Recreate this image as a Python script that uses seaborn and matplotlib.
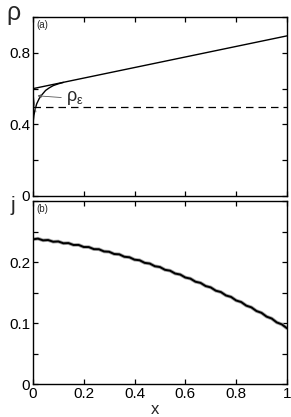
import matplotlib
matplotlib.use("Agg")
import matplotlib.pyplot as plt
import seaborn as sns
import numpy as np

# data
rho_line_x = [0.0, 1.0]
rho_line_y = [0.600, 0.895]
rho_bl_x = [0.0, 0.004, 0.008, 0.015, 0.025, 0.035, 0.05, 0.065, 0.08, 0.10, 0.12]
rho_bl_y = [0.40, 0.45, 0.48, 0.515, 0.545, 0.565, 0.59, 0.605, 0.617, 0.627, 0.635]
rho_eps_x = [0.0, 0.004, 0.008, 0.012]
rho_eps_y = [0.59, 0.54, 0.50, 0.47]
rho_ref = 0.5

j_vals = [0.2372, 0.2383, 0.2355, 0.2360, 0.2332, 0.2337, 0.2307, 0.2310, 0.2279, 0.2280,
          0.2246, 0.2245, 0.2211, 0.2209, 0.2173, 0.2168, 0.2131, 0.2126, 0.2086, 0.2078,
          0.2038, 0.2029, 0.1986, 0.1975, 0.1931, 0.1918, 0.1872, 0.1858, 0.1811, 0.1795,
          0.1746, 0.1728, 0.1677, 0.1658, 0.1606, 0.1584, 0.1530, 0.1508, 0.1452, 0.1428,
          0.1370, 0.1344, 0.1285, 0.1257, 0.1197, 0.1167, 0.1105, 0.1074, 0.1010, 0.0978,
          0.0915]
j_x = np.linspace(0, 1, len(j_vals))

sns.set_style("ticks")
plt.rcParams['font.family'] = ['Liberation Sans', 'DejaVu Sans']
plt.rcParams['mathtext.fontset'] = 'custom'
plt.rcParams['mathtext.rm'] = 'Liberation Sans'
plt.rcParams['mathtext.it'] = 'Liberation Sans'
plt.rcParams['mathtext.bf'] = 'Liberation Sans'

fig = plt.figure(figsize=(2.91, 4.17), dpi=100)
ax1 = fig.add_axes([0.113, 0.530, 0.873, 0.429])
ax2 = fig.add_axes([0.113, 0.079, 0.873, 0.439])

# top panel: density
sns.lineplot(x=rho_line_x, y=rho_line_y, ax=ax1, color="black", lw=1.0)
sns.lineplot(x=rho_bl_x, y=rho_bl_y, ax=ax1, color="black", lw=1.0, sort=False)
sns.lineplot(x=rho_eps_x, y=rho_eps_y, ax=ax1, color="0.35", lw=0.6, sort=False)
ax1.axhline(rho_ref, color="black", lw=0.9, ls=(0, (6, 4)))
ax1.annotate(r"$\rho_\varepsilon$", xy=(0.018, 0.56), xytext=(0.13, 0.545),
             fontsize=13, va="center",
             arrowprops=dict(arrowstyle="-|>", color="0.35", lw=0.6,
                             mutation_scale=5, shrinkA=1, shrinkB=0))
ax1.set_xlim(0, 1)
ax1.set_ylim(0, 1)
ax1.set_xticks([0, 0.2, 0.4, 0.6, 0.8, 1.0])
ax1.set_xticklabels([])
ax1.set_yticks([0, 0.2, 0.4, 0.6, 0.8, 1.0])
ax1.set_yticklabels(["0", "", "0.4", "", "0.8", ""])
ax1.text(0.015, 0.985, "(a)", transform=ax1.transAxes, fontsize=7, va="top")
fig.text(0.045, 0.970, "ρ", fontsize=18, ha="center", va="center")

# bottom panel: current
sns.lineplot(x=j_x, y=j_vals, ax=ax2, color="0.65", lw=2.6)
sns.lineplot(x=j_x, y=j_vals, ax=ax2, color="black", lw=1.4)
ax2.set_xlim(0, 1)
ax2.set_ylim(0, 0.3)
ax2.set_xticks([0, 0.2, 0.4, 0.6, 0.8, 1.0])
ax2.set_xticklabels(["0", "0.2", "0.4", "0.6", "0.8", "1"])
ax2.set_yticks([0, 0.05, 0.1, 0.15, 0.2, 0.25, 0.3])
ax2.set_yticklabels(["0", "", "0.1", "", "0.2", "", ""])
ax2.text(0.015, 0.985, "(b)", transform=ax2.transAxes, fontsize=7, va="top")
fig.text(0.045, 0.507, "j", fontsize=15, ha="center", va="center")
fig.text(0.533, 0.018, "x", fontsize=12, ha="center", va="center")

for ax in (ax1, ax2):
    ax.set_xlabel("")
    ax.set_ylabel("")
    ax.tick_params(direction="in", length=3.5, width=0.9, labelsize=11,
                   top=True, right=True, pad=2, colors="black")
    for s in ax.spines.values():
        s.set_linewidth(1.0)
        s.set_color("black")

fig.savefig("out.png", dpi=100)
